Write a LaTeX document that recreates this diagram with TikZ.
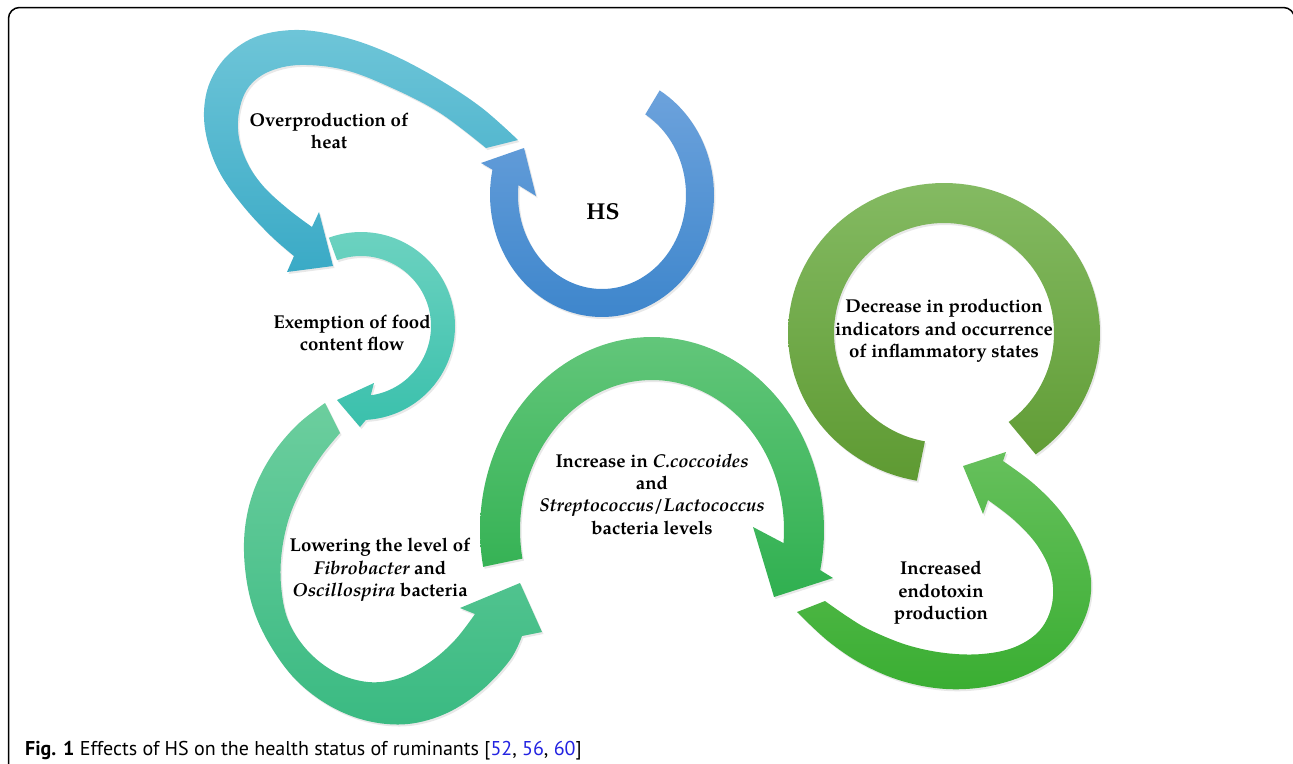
\documentclass[tikz,border=0pt]{standalone}
\usepackage{fontspec}
\setmainfont{TeX Gyre Pagella}
\newfontfamily\capfont{PT Sans}
\usetikzlibrary{calc,shadows}
\definecolor{cyanT}{RGB}{110,197,216}
\definecolor{cyanB}{RGB}{58,170,198}
\definecolor{blueT}{RGB}{108,162,220}
\definecolor{blueB}{RGB}{62,134,204}
\definecolor{tealT}{RGB}{108,210,192}
\definecolor{tealB}{RGB}{58,192,172}
\definecolor{gtT}{RGB}{108,206,158}
\definecolor{gtB}{RGB}{58,186,130}
\definecolor{grT}{RGB}{98,198,122}
\definecolor{grB}{RGB}{48,176,80}
\definecolor{olT}{RGB}{132,186,98}
\definecolor{olB}{RGB}{94,154,50}
\definecolor{bgT}{RGB}{102,192,92}
\definecolor{bgB}{RGB}{58,174,50}
\definecolor{citeblue}{RGB}{35,35,225}
\newcommand\species[1]{{\itshape #1}}
\begin{document}
\begin{tikzpicture}[x=1pt,y=-1pt,
  band/.style={drop shadow={shadow xshift=1.5pt,shadow yshift=-2pt,opacity=0.18}},
  lbl/.style={font=\fontsize{18.6}{22.4}\selectfont\bfseries, align=center, text=black, inner sep=0pt},
]
\useasboundingbox (0,0) rectangle (1293,763);
% frame
\draw[line width=1.5pt, rounded corners=11pt] (8.5,820) -- (8.5,7.5) -- (1294.5,7.5) -- (1294.5,820);

% 1 cyan band
\path[band, top color=cyanT, bottom color=cyanB]
  plot[smooth, tension=0.6] coordinates {(518,140) (482,108) (440,80) (393,55) (347,38) (300,30) (258,36) (228,55) (210,82) (204,112) (208,143) (221,175) (244,207) (271,236) (294,256)}
  -- (287,272) -- (333,266) -- (319,212)
  -- plot[smooth, tension=0.6] coordinates {(312,227) (288,209) (264,187) (248,164) (239,138) (239,112) (248,88) (268,72) (300,65) (345,70) (392,88) (440,113) (486,148)}
  -- cycle;

% 2 blue band (HS)
\path[band, top color=blueT, bottom color=blueB]
  plot[domain=-59:192, samples=90] ({602+112*cos(\x)},{195+122*sin(\x)})
  -- (481,163) -- (524,148) -- (536,196)
  -- plot[domain=-186:59, samples=90] ({602+84*cos(-\x)},{195+94*sin(-\x)})
  -- cycle;

% 3 teal band
\path[band, top color=tealT, bottom color=tealB]
  plot[domain=-110:87, samples=80] ({361+94*cos(\x)},{326+94*sin(\x)})
  -- (360,427) -- (337,400) -- (374,383)
  -- plot[domain=-82:110, samples=80] ({361+70*cos(-\x)},{326+70*sin(-\x)})
  -- cycle;

% 4 green-teal band
\path[band, top color=gtT, bottom color=gtB]
  plot[smooth, tension=0.6] coordinates {(325,403) (297,425) (272,455) (254,490) (245,528) (245,568) (253,608) (270,645) (296,680) (330,706) (368,721) (408,724) (447,713) (482,690) (510,660) (522,636)}
  -- (542,632) -- (520,583) -- (460,608)
  -- plot[smooth, tension=0.6] coordinates {(475,614) (455,640) (430,662) (400,678) (368,682) (335,672) (307,650) (288,620) (281,585) (282,550) (290,515) (305,482) (322,455) (340,433)}
  -- cycle;

% 5 green band
\path[band, top color=grT, bottom color=grB]
  plot[domain=169:372, samples=90] ({652+172*cos(\x)},{530+193*sin(\x)})
  -- (833,578) -- (774,597) -- (753,527)
  -- plot[domain=-365:-169, samples=90] ({652+132*cos(-\x)},{530+150*sin(-\x)})
  -- cycle;

% 6 olive ring
\path[band, top color=olT, bottom color=olB]
  plot[domain=100:414, samples=110] ({944+156*cos(\x)},{333+150*sin(\x)})
  -- plot[domain=-414:-100, samples=110] ({944+110*cos(-\x)},{333+110*sin(-\x)})
  -- cycle;

% 7 bright green band
\path[band, top color=bgT, bottom color=bgB]
  plot[smooth, tension=0.6] coordinates {(797,612) (828,641) (862,664) (902,681) (946,689) (990,686) (1032,672) (1066,648) (1086,615) (1091,580) (1081,545) (1061,512) (1034,484) (1003,461)}
  -- (1006,452) -- (963,466) -- (983,514)
  -- plot[smooth, tension=0.6] coordinates {(988,500) (1014,520) (1037,545) (1051,574) (1052,604) (1040,630) (1015,647) (982,654) (945,653) (907,645) (870,630) (848,617) (825,601)}
  -- cycle;

% labels
\node[lbl] (heat) at (329,131) {Overproduction of\\heat};
\node[lbl, font=\fontsize{23}{28}\selectfont\bfseries] (hs) at (603,212) {HS};
\node[lbl] (food) at (352,333) {Exemption of food\\content flow};
\node[lbl] (fib) at (380,570) {Lowering the level of\\\species{Fibrobacter} and\\\species{Oscillospira} bacteria};
\node[lbl] (inc) at (652,494) {Increase in \species{C.coccoides}\\and\\\species{Streptococcus/Lactococcus}\\bacteria levels};
\node[lbl] (dec) at (944,331) {Decrease in production\\indicators and occurrence\\of inflammatory states};
\node[lbl] (endo) at (941,593) {Increased\\endotoxin\\production};

% caption
\node[anchor=base west, inner sep=0pt, font=\capfont\fontsize{20}{24}\selectfont] (cap) at (25,755)
  {\textbf{Fig. 1} Effects of HS on the health status of ruminants [\textcolor{citeblue}{52}, \textcolor{citeblue}{56}, \textcolor{citeblue}{60}]};
\end{tikzpicture}
\end{document}
